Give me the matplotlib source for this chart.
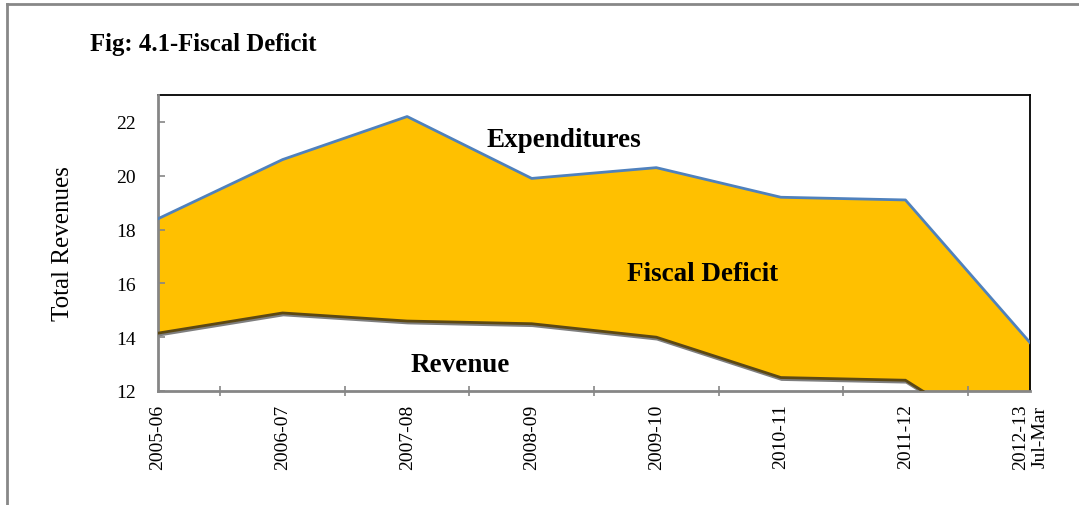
import matplotlib
matplotlib.use("Agg")
import matplotlib.pyplot as plt
import matplotlib.patheffects as pe
from matplotlib.lines import Line2D

# data (% of GDP)
years = ["2005-06", "2006-07", "2007-08", "2008-09", "2009-10",
         "2010-11", "2011-12", "2012-13\nJul-Mar"]
expenditures = [18.4, 20.6, 22.2, 19.9, 20.3, 19.2, 19.1, 13.8]
revenue = [14.15, 14.9, 14.6, 14.5, 14.0, 12.5, 12.4, 9.5]

plt.rcParams['font.family'] = ['Liberation Serif', 'DejaVu Serif']

W, H = 1079, 506
fig = plt.figure(figsize=(W / 100, H / 100), dpi=100)
ax = fig.add_axes([158 / W, 1 - 392 / H, (1030 - 158) / W, (392 - 96) / H])

x = list(range(len(years)))

ax.fill_between(x, revenue, expenditures, color='#FFC000', lw=0, zorder=1)
ax.plot(x, expenditures, color='#4F81BD', lw=2, zorder=3)
ax.plot(x, revenue, color='#5C4813', lw=2, zorder=3, solid_joinstyle='miter',
        path_effects=[pe.SimpleLineShadow(offset=(0.6, -1.4), shadow_color='#7F7F7F', alpha=1.0),
                      pe.Normal()])

ax.set_xlim(0, 7)
ax.set_ylim(12, 23)
ax.set_yticks([12, 14, 16, 18, 20, 22])

# category labels at the points, tick marks between them
ax.set_xticks(x)
ax.set_xticklabels(years, rotation=90, va='top', ha='center', fontsize=14)
ax.set_xticks([0.5, 1.5, 2.5, 3.5, 4.5, 5.5, 6.5, 7], minor=True)
ax.tick_params(axis='x', which='major', length=0, pad=9)
ax.tick_params(axis='x', which='minor', direction='inout', length=7, width=1.2, color='#868686')
ax.tick_params(axis='y', direction='in', length=5, width=1.2, color='#868686', labelsize=14, pad=16)

for s in ['left', 'bottom']:
    ax.spines[s].set_color('#868686')
    ax.spines[s].set_linewidth(2)
for s in ['top', 'right']:
    ax.spines[s].set_color('black')
    ax.spines[s].set_linewidth(1.3)
ax.spines['top'].set_zorder(0.5)

ax.set_ylabel("Total Revenues", fontsize=18, labelpad=30)

# labels inside the plot
ax.text(3.26, 21.33, "Expenditures", fontsize=19.5, fontweight='bold', ha='center', va='center')
ax.text(4.375, 16.37, "Fiscal Deficit", fontsize=19.5, fontweight='bold', ha='center', va='center')
ax.text(2.43, 13.0, "Revenue", fontsize=19.5, fontweight='bold', ha='center', va='center')

fig.text(90 / W, 1 - 45 / H, "Fig: 4.1-Fiscal Deficit", fontsize=17.8, fontweight='bold',
         ha='left', va='center')

# frame lines round the figure (top and left only)
fig.add_artist(Line2D([6.5 / W, 1], [1 - 5 / H, 1 - 5 / H], color='#888888', lw=2,
                      transform=fig.transFigure))
fig.add_artist(Line2D([6.5 / W, 6.5 / W], [0, 1 - 5 / H], color='#888888', lw=2,
                      transform=fig.transFigure))

fig.savefig("out.png", dpi=100)
